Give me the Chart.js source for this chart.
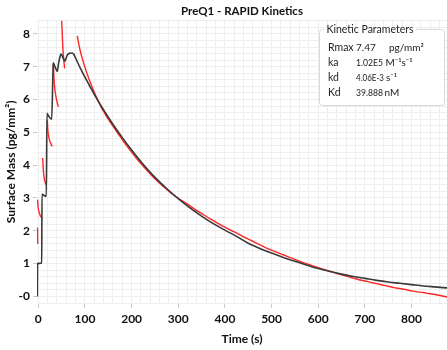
<!DOCTYPE html>
<html>
<head>
<meta charset="utf-8">
<title>PreQ1 - RAPID Kinetics</title>
<script src="https://cdn.jsdelivr.net/npm/chart.js@4.4.1/dist/chart.umd.min.js"></script>
<style>
  html, body { margin: 0; padding: 0; background: #fff; }
  #wrap { position: relative; width: 447px; height: 350px; }
</style>
</head>
<body>
<div id="wrap"><canvas id="kinetics"></canvas></div>
<script>
'use strict';

// Global fit (black): injection steps then dissociation
const fitTime = [-2.1, -1.7, 7.3, 7.9, 10, 17.1, 18.6, 22, 28.7, 31.5,
  32.1, 34, 37, 40.7, 43, 45, 47, 48.6, 50, 53,
  57.2, 59, 61, 64.3, 68, 72.9, 76, 80, 90, 100,
  110, 120, 135, 150, 165, 180, 200, 225, 250, 275,
  300, 325, 350, 375, 400, 425, 450, 475, 500, 525,
  550, 575, 600, 625, 650, 675, 700, 725, 750, 775,
  800, 825, 850, 876];
const fitMass = [0, 1.0, 1.02, 3.12, 3.10, 3.05, 5.58, 5.50, 5.40, 6.90,
  7.12, 7.06, 6.96, 6.86, 7.06, 7.22, 7.33, 7.39, 7.37, 7.27,
  7.17, 7.24, 7.32, 7.39, 7.41, 7.42, 7.38, 7.26, 6.96, 6.68,
  6.42, 6.16, 5.80, 5.46, 5.14, 4.84, 4.46, 4.02, 3.63, 3.29,
  2.98, 2.70, 2.45, 2.22, 2.02, 1.83, 1.62, 1.46, 1.32, 1.19,
  1.07, 0.96, 0.85, 0.76, 0.68, 0.61, 0.55, 0.49, 0.44, 0.40,
  0.36, 0.32, 0.29, 0.26];

// Measured response (red), one segment per dissociation window
const dataTime = [
  [-1.7, -1.55, -1.4],
  [-1.7, -0.6, 1.1, 3.6, 6.2, 7.9],
  [9.4, 10.7, 13.3, 17.5],
  [19.3, 20.4, 22.9, 26.1, 30.0],
  [32.1, 34.3, 37.9, 42.9],
  [49.3, 50.1, 51.4, 53.6, 56.5],
  [83.6, 86, 90, 95, 100, 105, 110, 115, 120, 125,
   130, 135, 140, 150, 160, 170, 180, 190, 200, 212,
   225, 237, 250, 262, 275, 287, 300, 312, 325, 337,
   350, 362, 375, 387, 400, 412, 425, 437, 450, 462,
   475, 487, 500, 512, 525, 537, 550, 562, 575, 587,
   600, 612, 625, 637, 650, 662, 675, 687, 700, 712,
   725, 737, 750, 762, 775, 787, 800, 812, 825, 837,
   850, 862, 876]
];
const dataMass = [
  [2.10, 1.85, 1.60],
  [2.95, 2.75, 2.60, 2.48, 2.42, 2.37],
  [4.22, 3.86, 3.55, 3.39],
  [5.38, 5.08, 4.83, 4.68, 4.57],
  [7.10, 6.49, 6.08, 5.78],
  [9.0, 8.43, 7.97, 7.36, 6.95],
  [7.94, 7.74, 7.48, 7.22, 6.98, 6.77, 6.57, 6.39, 6.22, 6.06,
   5.91, 5.76, 5.64, 5.40, 5.19, 4.98, 4.78, 4.58, 4.40, 4.18,
   3.97, 3.78, 3.59, 3.43, 3.27, 3.12, 2.99, 2.88, 2.76, 2.64,
   2.53, 2.42, 2.31, 2.21, 2.11, 2.02, 1.93, 1.84, 1.75, 1.66,
   1.57, 1.49, 1.41, 1.34, 1.27, 1.20, 1.13, 1.06, 1.00, 0.94,
   0.88, 0.82, 0.77, 0.71, 0.66, 0.61, 0.56, 0.51, 0.47, 0.43,
   0.39, 0.35, 0.31, 0.27, 0.24, 0.21, 0.17, 0.14, 0.12, 0.09,
   0.06, 0.03, -0.02]
];

const xTickValues = [0, 100, 200, 300, 400, 500, 600, 700, 800];
const yTickValues = [0, 1, 2, 3, 4, 5, 6, 7, 8];
const yTickLabels = ['-0', '1', '2', '3', '4', '5', '6', '7', '8'];

const paramTitle = 'Kinetic Parameters';
const paramNames = ['Rmax', 'ka', 'kd', 'Kd'];
const paramValues = ['7.47', '1.02E5', '4.06E-3', '39.888'];
const paramUnits = ['pg/mm²', 'M⁻¹s⁻¹', 's⁻¹', 'nM'];

const FONT = 'Lato, "Open Sans", sans-serif';
const INK = '#111';

function majorIndex(list, v) {
  return list.findIndex(t => Math.abs(t - v) < 1e-6);
}

function toPoints(xs, ys) {
  return xs.map((x, i) => ({ x: x, y: ys[i] }));
}

// Fieldset-style box with the fitted constants
const paramBox = {
  id: 'paramBox',
  afterDatasetsDraw(chart, args, opts) {
    const ctx = chart.ctx;
    const x = opts.left, y = opts.top;
    ctx.save();
    ctx.beginPath();
    ctx.roundRect(x, y, opts.width, opts.height, 3);
    ctx.fillStyle = 'rgba(255,255,255,0.93)';
    ctx.fill();
    ctx.strokeStyle = '#d2dae2';
    ctx.lineWidth = 1;
    ctx.stroke();

    ctx.font = opts.fontSize + 'px ' + FONT;
    ctx.textBaseline = 'alphabetic';
    const tw = ctx.measureText(paramTitle).width;
    ctx.fillStyle = '#fff';
    ctx.fillRect(x + 5, y - 2, tw + 4, 4);
    ctx.fillStyle = '#222';
    ctx.fillText(paramTitle, x + 7, y + 3.5);

    paramNames.forEach((name, i) => {
      const base = y + 21.5 + i * 15;
      ctx.font = opts.fontSize + 'px ' + FONT;
      ctx.fillText(name, x + 8.5, base);
      ctx.font = opts.valueFontSize + 'px ' + FONT;
      ctx.fillText(paramValues[i], opts.valueX, base, opts.valueWidth[i]);
      ctx.fillText(paramUnits[i], opts.unitX[i], base);
    });
    ctx.restore();
  }
};

const datasets = [{
  label: 'Fit',
  data: toPoints(fitTime, fitMass),
  borderColor: '#383838',
  borderWidth: 1.6,
  pointRadius: 0,
  cubicInterpolationMode: 'monotone'
}];
dataTime.forEach((seg, i) => {
  datasets.push({
    label: 'Data ' + (i + 1),
    data: toPoints(seg, dataMass[i]),
    borderColor: 'rgb(255,38,38)',
    borderWidth: 1.4,
    pointRadius: 0,
    cubicInterpolationMode: 'monotone'
  });
});

new Chart(document.getElementById('kinetics'), {
  type: 'line',
  data: { datasets: datasets },
  plugins: [paramBox],
  options: {
    responsive: true,
    maintainAspectRatio: false,
    animation: false,
    layout: { padding: 0 },
    plugins: {
      legend: { display: false },
      tooltip: { enabled: false },
      title: {
        display: true,
        text: 'PreQ1 - RAPID Kinetics',
        fullSize: false,
        color: INK,
        font: { family: FONT, size: 11.5, weight: 'bold' },
        padding: { top: 4, bottom: 3 }
      },
      paramBox: {
        left: 319.5, top: 29.5, width: 125, height: 76,
        fontSize: 10.5,
        valueFontSize: 10,
        valueX: 356,
        valueWidth: [20, 27, 28, 27],
        unitX: [389, 385.5, 386, 384.5]
      }
    },
    scales: {
      x: {
        type: 'linear',
        min: -2.8,
        max: 876,
        afterFit(scale) { scale.height = 47; },
        border: { display: false },
        grid: {
          color: '#eeeeee',
          tickLength: 5,
          tickColor: c => majorIndex(xTickValues, c.tick.value) >= 0 ? '#c8c8c8' : 'rgba(0,0,0,0)'
        },
        ticks: {
          stepSize: 20,
          includeBounds: false,
          autoSkip: false,
          maxRotation: 0,
          minRotation: 0,
          padding: 4,
          color: INK,
          font: { family: FONT, size: 12, weight: 'bold' },
          callback: v => {
            const i = majorIndex(xTickValues, v);
            return i >= 0 ? String(xTickValues[i]) : '';
          }
        },
        title: {
          display: true,
          text: 'Time (s)',
          color: INK,
          font: { family: FONT, size: 12, weight: 'bold' },
          padding: { top: 2, bottom: 4 }
        }
      },
      y: {
        type: 'linear',
        min: -0.2,
        max: 8.4,
        afterFit(scale) { scale.width = 37; },
        border: { display: false },
        grid: {
          color: '#eeeeee',
          tickLength: 4,
          tickColor: c => majorIndex(yTickValues, c.tick.value) >= 0 ? '#c8c8c8' : 'rgba(0,0,0,0)'
        },
        ticks: {
          stepSize: 0.2,
          includeBounds: false,
          autoSkip: false,
          padding: 3,
          color: INK,
          font: { family: FONT, size: 12, weight: 'bold' },
          callback: v => {
            const i = majorIndex(yTickValues, v);
            return i >= 0 ? yTickLabels[i] : '';
          }
        },
        title: {
          display: true,
          text: 'Surface Mass (pg/mm²)',
          color: INK,
          font: { family: FONT, size: 12, weight: 'bold' },
          padding: { top: 4, bottom: 2 }
        }
      }
    }
  }
});
</script>
</body>
</html>
